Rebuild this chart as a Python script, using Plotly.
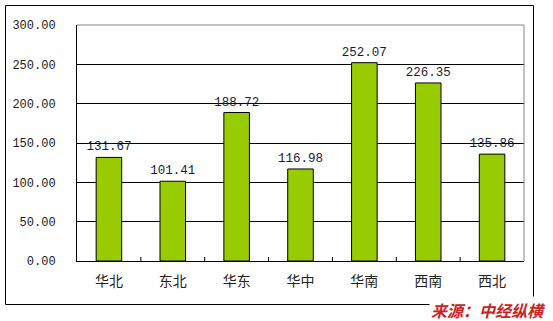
import plotly.graph_objects as go

categories = ["华北", "东北", "华东", "华中", "华南", "西南", "西北"]
values = [131.67, 101.41, 188.72, 116.98, 252.07, 226.35, 135.86]
y_ticks = [0, 50, 100, 150, 200, 250, 300]
y_tick_labels = ["0.00", "50.00", "100.00", "150.00", "200.00", "250.00", "300.00"]
source_text = "来源：中经纵横"

W, H = 553, 321
L, R, T, B = 77, 29, 25, 60
pw, ph = W - L - R, H - T - B

def px(x):
    return (x - L) / pw

def py(y):
    return (H - B - y) / ph

num_font = "Liberation Mono, DejaVu Sans Mono, monospace"
cjk_font = "Noto Sans CJK SC, sans-serif"

fig = go.Figure(go.Bar(
    x=categories, y=values,
    marker=dict(color="#99CC00", line=dict(color="#000000", width=1)),
    width=0.4,
    text=[f"{v:.2f}" for v in values],
    textposition="outside",
    constraintext="none",
    cliponaxis=False,
    textfont=dict(family=num_font, size=12.5, color="#1a1a40"),
))

fig.update_layout(
    width=W, height=H,
    margin=dict(l=L, r=R, t=T, b=B),
    paper_bgcolor="white", plot_bgcolor="white",
    showlegend=False,
    xaxis=dict(
        showgrid=False, showline=True, linecolor="black", linewidth=1,
        ticks="", tickfont=dict(family=cjk_font, size=14, color="#222"),
        ticklabelstandoff=7,
    ),
    yaxis=dict(
        range=[0, 300], tickvals=y_ticks, ticktext=y_tick_labels,
        showgrid=True, gridcolor="black", gridwidth=1,
        showline=True, linecolor="black", linewidth=1,
        zeroline=False, ticks="",
        tickfont=dict(family=num_font, size=12, color="#222"),
        ticklabelstandoff=18,
    ),
)

# category boundary ticks (inside, upward) on x axis
for i in range(1, len(categories)):
    fig.add_shape(type="line", xref="x", yref="paper",
                  x0=i - 0.5, x1=i - 0.5, y0=0, y1=4 / ph,
                  line=dict(color="black", width=1))

# gray top and right edges of plot area
fig.add_shape(type="line", xref="paper", yref="paper", x0=0, x1=1, y0=1, y1=1,
              line=dict(color="#888888", width=1))
fig.add_shape(type="line", xref="paper", yref="paper", x0=1, x1=1, y0=0, y1=1,
              line=dict(color="#888888", width=1))

# outer border
fig.add_shape(type="rect", xref="paper", yref="paper",
              x0=px(5.5), x1=px(533.5), y0=py(304.5), y1=py(5.5),
              line=dict(color="black", width=1), layer="below")

fig.add_annotation(
    text=f"<b><i>{source_text}</i></b>", xref="paper", yref="paper",
    x=px(488), y=py(310), xanchor="center", yanchor="middle",
    showarrow=False, bgcolor="white",
    font=dict(family=cjk_font, size=16, color="#cc2222"),
)

fig.write_html("out.html")
